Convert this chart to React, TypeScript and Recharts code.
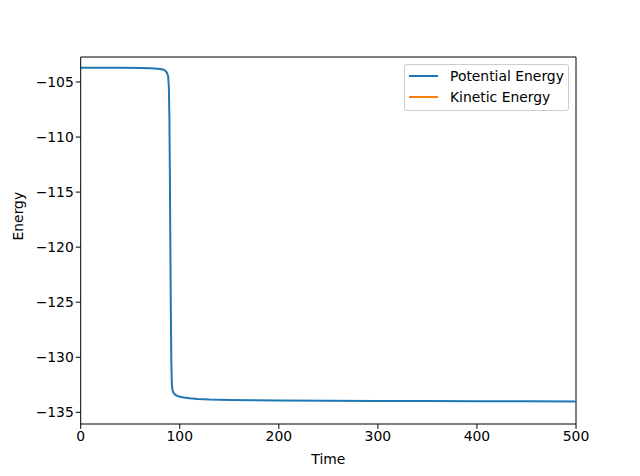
import { Line, LineChart, ReferenceLine, XAxis, YAxis } from "recharts";

const FONT = "'DejaVu Sans', sans-serif";

// Time / energy samples
const time = [
  0, 20, 40, 60, 70, 78, 82, 85, 87, 88.3, 89, 89.5, 90, 90.5, 91, 91.5, 92, 92.6, 93.5, 95, 97,
  100, 104, 110, 118, 130, 150, 175, 200, 250, 300, 350, 400, 450, 500,
];
const potential = [
  -103.7, -103.7, -103.71, -103.73, -103.75, -103.8, -103.85, -103.95, -104.15, -104.5, -105.5,
  -108, -113, -120, -126, -130.5, -132.4, -132.95, -133.2, -133.37, -133.48, -133.58, -133.66,
  -133.73, -133.79, -133.84, -133.88, -133.91, -133.93, -133.95, -133.97, -133.98, -133.99,
  -134.0, -134.01,
];
// kinetic energy has no visible trace in the chart
const kinetic: (number | null)[] = time.map(() => null);

const xTicks = [0, 100, 200, 300, 400, 500];
const yTicks = [-105, -110, -115, -120, -125, -130, -135];
const X_DOMAIN: [number, number] = [0, 500];
const Y_DOMAIN: [number, number] = [-136.06, -102.73];

const BLUE = "#1f77b4";
const ORANGE = "#ff7f0e";

const minus = (v: number) => (v < 0 ? `\u2212${Math.abs(v)}` : `${v}`);

function LegendBox() {
  const items = [
    { name: "Potential Energy", color: BLUE },
    { name: "Kinetic Energy", color: ORANGE },
  ];
  return (
    <div
      style={{
        position: "absolute",
        left: 404,
        top: 64,
        width: 165,
        height: 47,
        border: "1px solid #cccccc",
        borderRadius: 3,
        background: "rgba(255,255,255,0.8)",
        boxSizing: "border-box",
        fontFamily: FONT,
        fontSize: 13.9,
        color: "#000",
      }}
    >
      {items.map((it) => (
        <div key={it.name} style={{ display: "flex", alignItems: "center", height: 21.5 }}>
          <span
            style={{ display: "inline-block", width: 29, height: 2, background: it.color, marginLeft: 4 }}
          />
          <span style={{ marginLeft: 12 }}>{it.name}</span>
        </div>
      ))}
    </div>
  );
}

export default function App() {
  const data = time.map((t, i) => ({ time: t, potential: potential[i], kinetic: kinetic[i] }));
  const tick = { fontSize: 13.9, fill: "#000", fontFamily: FONT };

  return (
    <div style={{ position: "absolute", left: 0, top: 0, width: 640, height: 476, background: "#fff" }}>
      <LineChart width={640} height={476} data={data} margin={{ top: 57, right: 64, bottom: 0, left: 0 }}>
        <XAxis
          dataKey="time"
          type="number"
          domain={X_DOMAIN}
          ticks={xTicks}
          allowDataOverflow
          height={52}
          tick={tick}
          tickLine={{ stroke: "#000" }}
          tickSize={4.9}
          tickMargin={2}
          axisLine={{ stroke: "#000" }}
          label={{ value: "Time", position: "insideBottom", offset: 12, fontSize: 13.9, fill: "#000", fontFamily: FONT }}
        />
        <YAxis
          type="number"
          domain={Y_DOMAIN}
          ticks={yTicks}
          allowDataOverflow
          width={80.7}
          tick={tick}
          tickFormatter={minus}
          tickLine={{ stroke: "#000" }}
          tickSize={4.9}
          tickMargin={2}
          axisLine={{ stroke: "#000" }}
          label={{ value: "Energy", angle: -90, position: "insideLeft", offset: 18, fontSize: 13.9, fill: "#000", fontFamily: FONT }}
        />
        {/* top and right spines of the frame */}
        <ReferenceLine y={Y_DOMAIN[1]} stroke="#000" strokeWidth={1} ifOverflow="visible" />
        <ReferenceLine x={X_DOMAIN[1]} stroke="#000" strokeWidth={1} ifOverflow="visible" />
        <Line
          dataKey="potential"
          name="Potential Energy"
          stroke={BLUE}
          strokeWidth={2}
          dot={false}
          isAnimationActive={false}
        />
        <Line
          dataKey="kinetic"
          name="Kinetic Energy"
          stroke={ORANGE}
          strokeWidth={2}
          dot={false}
          isAnimationActive={false}
        />
      </LineChart>
      <LegendBox />
    </div>
  );
}
